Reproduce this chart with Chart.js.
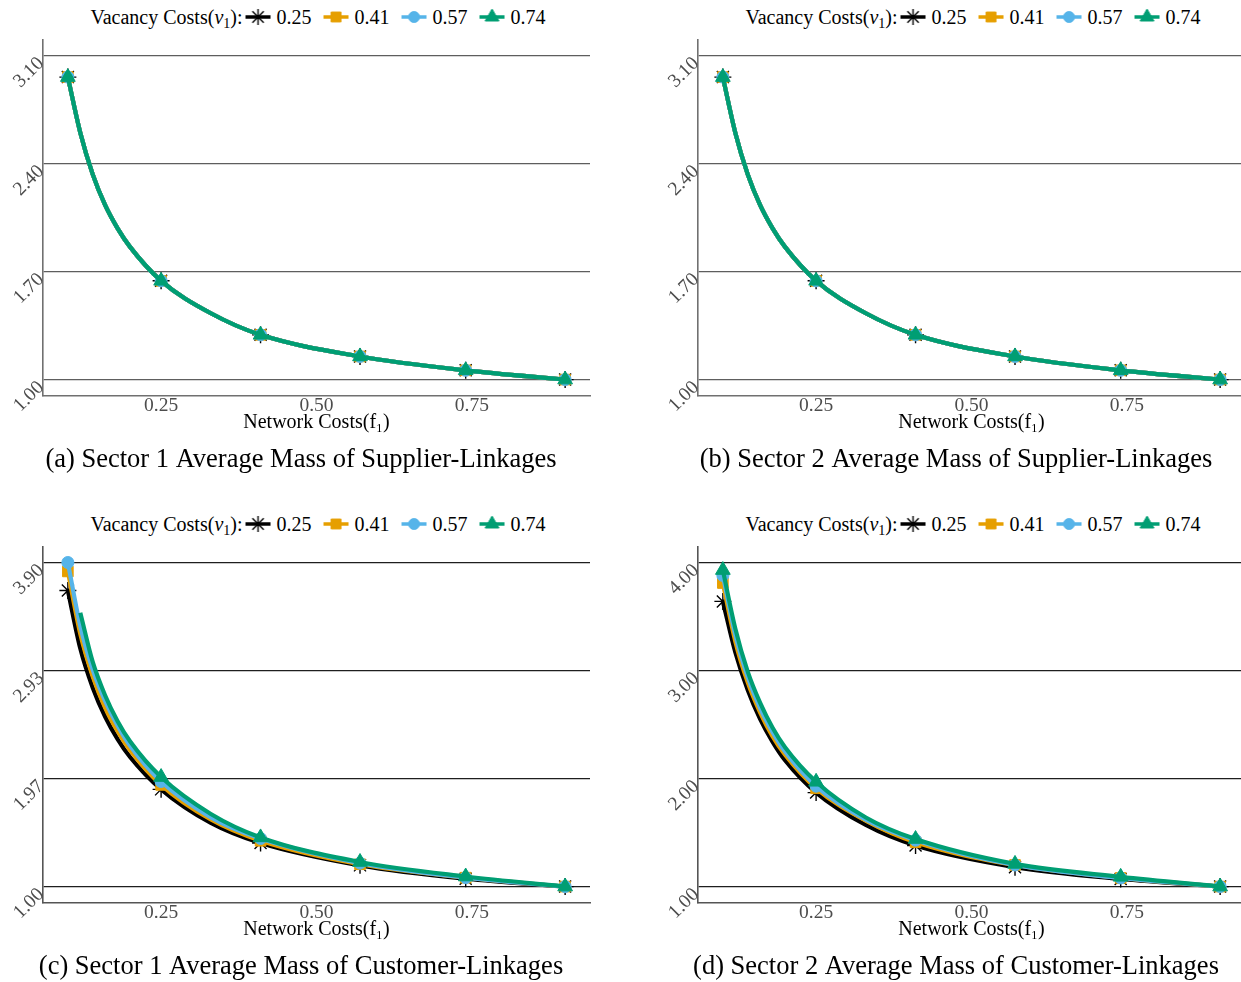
<!DOCTYPE html>
<html><head><meta charset="utf-8">
<script src="https://cdn.jsdelivr.net/npm/chart.js"></script>
<style>
html,body{margin:0;padding:0;background:#fff;overflow:hidden;width:1241px;height:982px;position:relative;}
.panel{position:absolute;width:620px;height:473px;}
.legend{position:absolute;display:flex;align-items:center;white-space:nowrap;font-family:'Liberation Serif',serif;font-size:20px;line-height:20px;color:#000;transform:translateX(-50%);}
.legend sub{font-size:0.7em;line-height:0;vertical-align:-0.25em;}
.legend canvas{display:block;}
</style></head><body>
<div id="legA" class="legend" style="left:318px;top:7px"></div>
<div id="legB" class="legend" style="left:973px;top:7px"></div>
<div id="legC" class="legend" style="left:318px;top:514px"></div>
<div id="legD" class="legend" style="left:973px;top:514px"></div>
<canvas id="cA" class="panel" width="620" height="473" style="left:0;top:0"></canvas>
<canvas id="cB" class="panel" width="620" height="473" style="left:655px;top:0"></canvas>
<canvas id="cC" class="panel" width="620" height="473" style="left:0;top:507px"></canvas>
<canvas id="cD" class="panel" width="620" height="473" style="left:655px;top:507px"></canvas>
<script>
// ---------------- data ----------------
const xCurve = [0.10, 0.12, 0.14, 0.16, 0.18, 0.20, 0.25, 0.33, 0.41, 0.57, 0.74, 0.90];
const xMarks = [0.10, 0.25, 0.41, 0.57, 0.74, 0.90];
const xTicks = [0.25, 0.50, 0.75];
const vacancyCosts = ['0.25', '0.41', '0.57', '0.74'];

const yTicksA = [1.00, 1.70, 2.40, 3.10];
const yTicksB = [1.00, 1.70, 2.40, 3.10];
const yTicksC = [1.00, 1.9667, 2.9333, 3.90];
const yTicksD = [1.00, 2.00, 3.00, 4.00];

// (a) Sector 1 supplier-linkages
const a025 = [2.96, 2.60, 2.33, 2.13, 1.98, 1.86, 1.64, 1.43, 1.29, 1.15, 1.06, 1.00];
const a041 = [2.96, 2.60, 2.33, 2.13, 1.98, 1.86, 1.64, 1.43, 1.29, 1.15, 1.06, 1.00];
const a057 = [2.96, 2.60, 2.33, 2.13, 1.98, 1.86, 1.64, 1.43, 1.29, 1.15, 1.06, 1.00];
const a074 = [2.96, 2.60, 2.33, 2.13, 1.98, 1.86, 1.64, 1.43, 1.29, 1.15, 1.06, 1.00];
// (b) Sector 2 supplier-linkages
const b025 = [2.96, 2.60, 2.33, 2.13, 1.98, 1.86, 1.64, 1.43, 1.29, 1.15, 1.06, 1.00];
const b041 = [2.96, 2.60, 2.33, 2.13, 1.98, 1.86, 1.64, 1.43, 1.29, 1.15, 1.06, 1.00];
const b057 = [2.96, 2.60, 2.33, 2.13, 1.98, 1.86, 1.64, 1.43, 1.29, 1.15, 1.06, 1.00];
const b074 = [2.96, 2.60, 2.33, 2.13, 1.98, 1.86, 1.64, 1.43, 1.29, 1.15, 1.06, 1.00];
// (c) Sector 1 customer-linkages
const c025 = [3.65, 3.13, 2.78, 2.52, 2.32, 2.16, 1.87, 1.57, 1.39, 1.19, 1.07, 1.00];
const c041 = [3.82, 3.26, 2.88, 2.60, 2.39, 2.22, 1.91, 1.60, 1.41, 1.20, 1.08, 1.00];
const c057 = [3.90, 3.33, 2.94, 2.66, 2.44, 2.26, 1.94, 1.62, 1.43, 1.21, 1.08, 1.00];
const c074 = [null, 3.45, 3.01, 2.71, 2.48, 2.30, 1.98, 1.65, 1.44, 1.22, 1.09, 1.00];
// (d) Sector 2 customer-linkages
const d025 = [3.64, 3.17, 2.82, 2.55, 2.34, 2.17, 1.87, 1.57, 1.38, 1.18, 1.07, 1.00];
const d041 = [3.81, 3.27, 2.89, 2.61, 2.39, 2.22, 1.91, 1.61, 1.41, 1.20, 1.08, 1.00];
const d057 = [3.88, 3.33, 2.94, 2.65, 2.43, 2.25, 1.93, 1.62, 1.43, 1.20, 1.08, 1.00];
const d074 = [3.93, 3.39, 2.99, 2.70, 2.47, 2.29, 1.97, 1.64, 1.44, 1.21, 1.09, 1.00];

const captionA = '(a) Sector 1 Average Mass of Supplier-Linkages';
const captionB = '(b) Sector 2 Average Mass of Supplier-Linkages';
const captionC = '(c) Sector 1 Average Mass of Customer-Linkages';
const captionD = '(d) Sector 2 Average Mass of Customer-Linkages';
const xTitle = 'Network Costs(f\u2081)';

// ---------------- styles ----------------
const FONT = "'Liberation Serif', 'Times New Roman', serif";
const styles = [
  {color: '#000000', point: 'star', radius: 8.5, order: 4, pbw: 1.4},
  {color: '#E69F00', point: 'rect', radius: 7.5, order: 3, pbw: 1},
  {color: '#56B4E9', point: 'circle', radius: 6, order: 2, pbw: 1},
  {color: '#009E73', point: 'triangle', radius: 8.5, order: 1, pbw: 1}
];

function isMark(x) { return xMarks.some(m => Math.abs(m - x) < 1e-9); }

function makePanel(id, seriesList, yTicks, caption, gridColor, axisColor) {
  const lo = yTicks[0], hi = yTicks[yTicks.length - 1];
  const pad = (hi - lo) * 0.05;
  const datasets = seriesList.map((vals, i) => {
    const st = styles[i];
    return {
      label: vacancyCosts[i],
      data: xCurve.map((x, j) => ({x: x, y: vals[j]})),
      borderColor: st.color,
      backgroundColor: st.color,
      borderWidth: 4.2,
      pointStyle: st.point,
      pointRadius: ctx => { const r = ctx.raw; if (!r) return st.radius; return (isMark(r.x) && r.y !== null) ? st.radius : 0; },
      pointBackgroundColor: st.color,
      pointBorderColor: st.color,
      pointBorderWidth: st.pbw,
      cubicInterpolationMode: 'monotone',
      spanGaps: false,
      order: st.order
    };
  });
  return new Chart(document.getElementById(id), {
    type: 'line',
    data: {datasets},
    options: {
      responsive: false,
      animation: false,
      events: [],
      layout: {padding: {left: 12, right: 30, top: 39.3, bottom: 0}},
      scales: {
        x: {
          type: 'linear', min: 0.06, max: 0.94,
          afterBuildTicks: s => { s.ticks = xTicks.map(v => ({value: v})); },
          afterFit: s => { s.height = 37.1; },
          ticks: {callback: v => Number(v).toFixed(2), color: '#4d4d4d', font: {family: FONT, size: 19.5, lineHeight: 0.8}, padding: 2.4, minRotation: 0, maxRotation: 0, autoSkip: false},
          grid: {display: false, drawTicks: false},
          border: {display: true, color: axisColor, width: 1.6},
          title: {display: true, text: xTitle, color: '#000', font: {family: FONT, size: 20, lineHeight: 1}, padding: {top: 0, bottom: 0}}
        },
        y: {
          type: 'linear', min: lo - pad, max: hi + pad,
          afterBuildTicks: s => { s.ticks = yTicks.map(v => ({value: v})); },
          afterFit: s => { s.width = 31; },
          ticks: {callback: v => Number(v).toFixed(2), color: '#4d4d4d', font: {family: FONT, size: 19.5}, padding: 2, labelOffset: 5, minRotation: 45, maxRotation: 45, autoSkip: false},
          grid: {color: gridColor, lineWidth: 1.3, drawTicks: false},
          border: {display: true, color: axisColor, width: 1.6}
        }
      },
      plugins: {
        legend: {display: false},
        tooltip: {enabled: false},
        title: {display: true, position: 'bottom', text: caption, color: '#000', font: {family: FONT, size: 26.5, lineHeight: 1, weight: 'normal'}, padding: {top: 13.6, bottom: 0}}
      }
    }
  });
}

function drawSymbol(cv, st) {
  const ctx = cv.getContext('2d');
  ctx.strokeStyle = st.color; ctx.fillStyle = st.color;
  ctx.lineWidth = 3.5;
  ctx.beginPath(); ctx.moveTo(0, cv.height / 2); ctx.lineTo(cv.width, cv.height / 2); ctx.stroke();
  ctx.lineWidth = st.pbw;
  const r = st.point === 'circle' ? 5.5 : (st.point === 'rect' ? 7 : 8);
  Chart.helpers.drawPoint(ctx, {pointStyle: st.point, radius: r, borderWidth: st.pbw, rotation: 0}, cv.width / 2, cv.height / 2);
}

function buildLegend(id, chart) {
  const el = document.getElementById(id);
  const t = document.createElement('span');
  t.innerHTML = 'Vacancy Costs(<i>\u03BD</i><sub>1</sub>):';
  el.appendChild(t);
  chart.data.datasets.forEach((ds, i) => {
    const cv = document.createElement('canvas');
    cv.width = 25; cv.height = 18;
    cv.style.marginLeft = (i === 0 ? 3 : 12) + 'px';
    el.appendChild(cv);
    drawSymbol(cv, styles[i]);
    const s = document.createElement('span');
    s.textContent = ds.label;
    s.style.marginLeft = '6px';
    el.appendChild(s);
  });
}

const chA = makePanel('cA', [a025, a041, a057, a074], yTicksA, captionA, '#5e5e5e', '#707070');
const chB = makePanel('cB', [b025, b041, b057, b074], yTicksB, captionB, '#5e5e5e', '#707070');
const chC = makePanel('cC', [c025, c041, c057, c074], yTicksC, captionC, '#1e1e1e', '#555555');
const chD = makePanel('cD', [d025, d041, d057, d074], yTicksD, captionD, '#1e1e1e', '#555555');
buildLegend('legA', chA); buildLegend('legB', chB); buildLegend('legC', chC); buildLegend('legD', chD);
</script>
</body></html>
